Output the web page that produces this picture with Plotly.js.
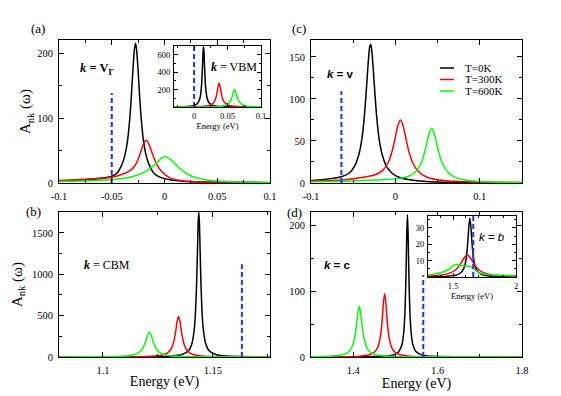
<!DOCTYPE html>
<html>
<head>
<meta charset="utf-8">
<script src="https://cdn.plot.ly/plotly-3.0.1.min.js"></script>
<style>
  html, body { margin: 0; padding: 0; background: #fff; }
  #chart { width: 561px; height: 396px; }
</style>
</head>
<body>
<div id="chart"></div>
<script>
// ---- panel (a): k = V_Gamma ----
const aBlackX = [-0.1, -0.08, -0.065, -0.05, -0.045, -0.04, -0.037, -0.035, -0.033, -0.0315, -0.03, -0.0285, -0.0275, -0.0265, -0.025, -0.0235, -0.022, -0.02, -0.018, -0.015, -0.01, -0.005, 0.005, 0.02, 0.05, 0.1];
const aBlackY = [3.0, 4.2, 6.0, 10.5, 15.5, 30, 47, 66, 98, 132, 173, 207, 216, 207, 173, 132, 98, 66, 47, 30, 15, 9.5, 5.0, 2.5, 1.2, 0.5];
const aRedX = [-0.1, -0.08, -0.065, -0.05, -0.04, -0.032, -0.028, -0.024, -0.021, -0.019, -0.0175, -0.016, -0.014, -0.011, -0.007, -0.003, 0.005, 0.015, 0.03, 0.06, 0.1];
const aRedY = [4.0, 5.5, 7.0, 9.0, 13.5, 20, 27, 41, 56, 63.5, 66, 64, 57, 43, 28, 18, 8, 4, 2, 1, 0.5];
const aGreenX = [-0.1, -0.08, -0.06, -0.05, -0.04, -0.03, -0.02, -0.014, -0.01, -0.006, -0.003, 0.0005, 0.004, 0.008, 0.012, 0.016, 0.022, 0.03, 0.04, 0.055, 0.075, 0.1];
const aGreenY = [2.2, 3.0, 4.2, 5.2, 7.0, 10, 16, 22, 27.5, 33.5, 38.5, 41, 38.5, 33, 26.5, 20.5, 13.5, 8, 4.8, 2.6, 1.4, 0.8];
const aMarkX = [-0.05, -0.05];
const aMarkY = [0, 139];

// ---- inset of (a): k = VBM ----
const iaBlackX = [-0.03, -0.01, 0.0, 0.006, 0.009, 0.0111, 0.0126, 0.0134, 0.0141, 0.0148, 0.0156, 0.0171, 0.0192, 0.0222, 0.0282, 0.0382, 0.06, 0.1];
const iaBlackY = [1.7, 5.7, 16.5, 47.8, 109, 243, 474, 631, 695, 631, 474, 243, 109, 47.8, 16.5, 5.7, 1.7, 0.45];
const iaRedX = [-0.03, 0.0, 0.015, 0.024, 0.0294, 0.0324, 0.0344, 0.0359, 0.0374, 0.0389, 0.0404, 0.0424, 0.0454, 0.0508, 0.0598, 0.075, 0.1];
const iaRedY = [0.9, 2.8, 7.7, 20.5, 50.6, 100.7, 170, 238, 275, 238, 170, 100.7, 50.6, 20.5, 7.7, 2.8, 1.0];
const iaGreenX = [-0.03, 0.0, 0.03, 0.043, 0.0506, 0.0546, 0.0576, 0.0591, 0.0606, 0.0621, 0.0636, 0.0666, 0.0706, 0.0782, 0.0912, 0.1];
const iaGreenY = [0.5, 1.1, 4.2, 12.3, 33.7, 72, 138.5, 180, 200, 180, 138.5, 72, 33.7, 12.3, 4.2, 2.6];
const iaMarkX = [0, 0];
const iaMarkY = [0, 700];

// ---- panel (c): k = v ----
const cBlackX = [-0.1, -0.085, -0.075, -0.064, -0.055, -0.048, -0.043, -0.0395, -0.0365, -0.034, -0.032, -0.0305, -0.0295, -0.0285, -0.027, -0.025, -0.0225, -0.0195, -0.016, -0.011, -0.004, 0.005, 0.0205, 0.0405, 0.0705, 0.15];
const cBlackY = [3.0, 4.3, 5.5, 7.5, 11.6, 20.7, 35, 54, 82.5, 117, 146, 161.7, 165, 161.7, 146, 117, 82.5, 54, 35, 20.7, 11.6, 6.5, 3.2, 1.6, 0.8, 0.25];
const cRedX = [-0.1, -0.08, -0.06, -0.04, -0.025, -0.015, -0.008, -0.004, -0.001, 0.003, 0.006, 0.009, 0.012, 0.016, 0.02, 0.027, 0.037, 0.05, 0.07, 0.1, 0.15];
const cRedY = [2.5, 3.0, 4.0, 6.5, 9.5, 15, 25.3, 37.5, 50.3, 68.8, 75, 68.8, 55, 37.5, 25.3, 13.9, 7.1, 3.8, 2.0, 1.0, 0.5];
const cGreenX = [-0.1, -0.06, -0.03, -0.01, 0.005, 0.015, 0.023, 0.029, 0.0335, 0.037, 0.04, 0.043, 0.046, 0.049, 0.0525, 0.057, 0.063, 0.071, 0.081, 0.1, 0.15];
const cGreenY = [1.5, 2.2, 3.2, 4.3, 5.5, 7.8, 12.5, 20.5, 32.5, 46.4, 59, 65, 59, 46.4, 32.5, 20.5, 12, 6.7, 3.8, 1.8, 0.6];
const cMarkX = [-0.064, -0.064];
const cMarkY = [0, 109];

// ---- panel (b): k = CBM ----
const bBlackX = [1.08, 1.12, 1.13, 1.136, 1.139, 1.1406, 1.1416, 1.1421, 1.1426, 1.143, 1.1433, 1.1436, 1.1439, 1.1442, 1.1446, 1.1451, 1.1456, 1.1466, 1.1482, 1.1512, 1.156, 1.176];
const bBlackY = [0.4, 3, 9, 29.8, 79, 175, 350, 538, 875, 1287, 1606, 1750, 1606, 1287, 875, 538, 350, 175, 79, 30, 11, 1.7];
const bRedX = [1.08, 1.1, 1.115, 1.122, 1.1264, 1.1294, 1.1309, 1.1319, 1.1327, 1.1332, 1.1338, 1.1344, 1.135, 1.1356, 1.1361, 1.1369, 1.1379, 1.1394, 1.1424, 1.1464, 1.1544, 1.176];
const bRedY = [0.5, 1.2, 3.7, 9, 21, 51, 93.5, 155, 245, 327, 436, 490, 436, 327, 245, 155, 93.5, 51, 21, 9.6, 3.5, 0.8];
const bGreenX = [1.08, 1.095, 1.106, 1.1111, 1.1146, 1.1166, 1.1181, 1.1189, 1.1196, 1.1203, 1.1211, 1.1219, 1.1226, 1.1233, 1.1241, 1.1256, 1.1276, 1.1311, 1.1361, 1.1461, 1.176];
const bGreenY = [0.9, 2.1, 6.3, 13.8, 31, 58, 105, 150, 205, 265, 300, 265, 205, 150, 105, 58, 31, 13.8, 6.3, 2.3, 0.5];
const bMarkX = [1.1632, 1.1632];
const bMarkY = [0, 1120];

// ---- panel (d): k = c ----
const dBlackX = [1.3, 1.45, 1.49, 1.505, 1.5155, 1.5195, 1.5225, 1.5245, 1.5255, 1.527, 1.5285, 1.53, 1.5315, 1.5325, 1.5345, 1.5375, 1.5415, 1.5485, 1.5635, 1.5885, 1.65, 1.8];
const dBlackY = [0.1, 0.6, 2.3, 6.1, 18.7, 35.6, 66.5, 108, 138, 189, 216, 189, 138, 108, 66.5, 35.6, 18.7, 8.3, 2.8, 0.96, 0.3, 0.05];
const dRedX = [1.3, 1.38, 1.4145, 1.4395, 1.4525, 1.4595, 1.4645, 1.4675, 1.4695, 1.472, 1.4745, 1.477, 1.4795, 1.4815, 1.4845, 1.4895, 1.4965, 1.5095, 1.5345, 1.6, 1.8];
const dRedY = [0.3, 0.52, 1.3, 3.7, 8.8, 17.2, 31.6, 48, 63.6, 85, 96, 85, 63.6, 48, 31.6, 17.2, 8.8, 3.7, 1.3, 0.3, 0.05];
const dGreenX = [1.3, 1.3443, 1.3743, 1.3883, 1.3963, 1.4023, 1.4058, 1.4083, 1.4113, 1.4143, 1.4173, 1.4203, 1.4228, 1.4263, 1.4323, 1.4403, 1.4543, 1.4843, 1.55, 1.8];
const dGreenY = [0.42, 1.1, 3.3, 7.4, 14, 25.8, 38.5, 51.3, 68.4, 77, 68.4, 51.3, 38.5, 25.8, 14, 7.4, 3.3, 1.1, 0.3, 0.04];
const dMarkX = [1.566, 1.566];
const dMarkY = [0, 124];

// ---- inset of (d): k = b ----
const idBlackX = [1.3, 1.45, 1.53, 1.563, 1.588, 1.603, 1.613, 1.618, 1.625, 1.633, 1.641, 1.648, 1.653, 1.663, 1.678, 1.703, 1.733, 1.8, 2.0];
const idBlackY = [0.13, 0.42, 1.3, 2.7, 5.9, 11, 18, 23, 31, 36, 31, 23, 18, 11, 5.9, 2.7, 1.4, 0.5, 0.1];
const idRedX = [1.3, 1.41, 1.482, 1.522, 1.547, 1.572, 1.592, 1.612, 1.632, 1.652, 1.677, 1.702, 1.742, 1.812, 2.0];
const idRedY = [0.56, 1.3, 2.7, 4.6, 6.75, 9.8, 12.3, 13.5, 12.3, 9.8, 6.75, 4.6, 2.7, 1.3, 0.37];
const idGreenX = [1.3, 1.35, 1.4, 1.44, 1.47, 1.49, 1.51, 1.53, 1.56, 1.6, 1.63, 1.65, 1.67, 1.69, 1.72, 1.76, 1.82, 1.9, 2.0];
const idGreenY = [1.2, 1.8, 2.6, 3.7, 5.0, 6.4, 7.3, 7.5, 7.2, 6.8, 6.6, 6.0, 4.8, 3.4, 2.3, 1.6, 1.2, 1.0, 0.9];
const idMarkX = [1.66, 1.66];
const idMarkY = [0, 37.3];

// ---- tick labels ----
const aTickVals = [-0.1, -0.05, 0, 0.05, 0.1];
const aTickText = ['-0.1', '-0.05', '0', '0.05', '0.1'];
const cTickVals = [-0.1, 0, 0.1];
const cTickText = ['-0.1', '0', '0.1'];
const bTickVals = [1.1, 1.15];
const bTickText = ['1.1', '1.15'];
const dTickVals = [1.4, 1.6, 1.8];
const dTickText = ['1.4', '1.6', '1.8'];
const iaTickVals = [0, 0.05, 0.1];
const iaTickText = ['0', '0.05', '0.1'];
const idTickVals = [1.5, 2];
const idTickText = ['1.5', '2'];

const seriesNames = ['T=0K', 'T=300K', 'T=600K'];
const seriesColors = ['#000000', '#ff0000', '#00ff00'];
const markColor = '#1f2fff';

const SERIF = '"Liberation Serif", "Times New Roman", serif';
const SANS = '"Liberation Sans", Arial, sans-serif';
const W = 561, H = 396;

// pixel -> paper helpers (page is fixed size)
const px = v => v / W;
const py = v => 1 - v / H;

function curve(x, y, i, xa, ya) {
    return {
        x: x, y: y, xaxis: xa, yaxis: ya,
        type: 'scatter', mode: 'lines', name: seriesNames[i],
        showlegend: false, hoverinfo: 'skip',
        line: { color: seriesColors[i], width: 1.5, shape: 'spline', smoothing: 0.6 }
    };
}
function mark(x, y, xa, ya) {
    return {
        x: x, y: y, xaxis: xa, yaxis: ya,
        type: 'scatter', mode: 'lines', showlegend: false, hoverinfo: 'skip',
        line: { color: markColor, width: 2, dash: '5px,3px' }
    };
}

const traces = [
    curve(aBlackX, aBlackY, 0, 'x', 'y'), curve(aRedX, aRedY, 1, 'x', 'y'), curve(aGreenX, aGreenY, 2, 'x', 'y'), mark(aMarkX, aMarkY, 'x', 'y'),
    curve(cBlackX, cBlackY, 0, 'x2', 'y2'), curve(cRedX, cRedY, 1, 'x2', 'y2'), curve(cGreenX, cGreenY, 2, 'x2', 'y2'), mark(cMarkX, cMarkY, 'x2', 'y2'),
    curve(bBlackX, bBlackY, 0, 'x3', 'y3'), curve(bRedX, bRedY, 1, 'x3', 'y3'), curve(bGreenX, bGreenY, 2, 'x3', 'y3'), mark(bMarkX, bMarkY, 'x3', 'y3'),
    curve(dBlackX, dBlackY, 0, 'x4', 'y4'), curve(dRedX, dRedY, 1, 'x4', 'y4'), curve(dGreenX, dGreenY, 2, 'x4', 'y4'), mark(dMarkX, dMarkY, 'x4', 'y4'),
    curve(iaBlackX, iaBlackY, 0, 'x5', 'y5'), curve(iaRedX, iaRedY, 1, 'x5', 'y5'), curve(iaGreenX, iaGreenY, 2, 'x5', 'y5'), mark(iaMarkX, iaMarkY, 'x5', 'y5'),
    curve(idBlackX, idBlackY, 0, 'x6', 'y6'), curve(idRedX, idRedY, 1, 'x6', 'y6'), curve(idGreenX, idGreenY, 2, 'x6', 'y6'), mark(idMarkX, idMarkY, 'x6', 'y6'),
];

// shared axis look: boxed, inside ticks on all sides
function axis(extra, small) {
    return Object.assign({
        showline: true, linecolor: '#000', linewidth: 1, mirror: 'ticks',
        ticks: 'inside', ticklen: small ? 4 : 5, tickwidth: 1, tickcolor: '#000',
        showgrid: false, zeroline: false, fixedrange: true,
        tickfont: { family: SERIF, size: small ? 8.5 : 10.5, color: '#000' },
        ticklabelstandoff: small ? 1 : 3
    }, extra);
}
const ytitleA = { text: 'A<sub>nk</sub> (ω)', font: { family: SERIF, size: 15, color: '#000' }, standoff: 2 };
const ytitleB = { text: 'A<sub>nk</sub> (ω)', font: { family: SERIF, size: 15, color: '#000' }, standoff: 5 };
const xtitle = { text: 'Energy (eV)', font: { family: SERIF, size: 14, color: '#000' }, standoff: 1 };
const xtitleSmall = { text: 'Energy (eV)', font: { family: SERIF, size: 8.5, color: '#000' }, standoff: 0 };

const layout = {
    width: W, height: H,
    margin: { l: 0, r: 0, t: 0, b: 0 },
    paper_bgcolor: '#fff', plot_bgcolor: '#fff',
    showlegend: false,
    font: { family: SERIF, color: '#000' },
    // (a)
    xaxis: axis({ domain: [px(59), px(270)], anchor: 'y', range: [-0.1, 0.1], tickvals: aTickVals, ticktext: aTickText,
        minor: { dtick: 0.025, tick0: 0, ticks: 'inside', ticklen: 3 } }),
    yaxis: axis({ domain: [py(183), py(40)], anchor: 'x', range: [0, 221], tickvals: [0, 100, 200],
        minor: { dtick: 50, ticks: 'inside', ticklen: 3 }, title: ytitleA }),
    // (c)
    xaxis2: axis({ domain: [px(311), px(522)], anchor: 'y2', range: [-0.1, 0.15], tickvals: cTickVals, ticktext: cTickText,
        minor: { dtick: 0.05, tick0: 0, ticks: 'inside', ticklen: 3 } }),
    yaxis2: axis({ domain: [py(183), py(40)], anchor: 'x2', range: [0, 170], tickvals: [0, 50, 100, 150],
        minor: { dtick: 25, ticks: 'inside', ticklen: 3 } }),
    // (b)
    xaxis3: axis({ domain: [px(59), px(270)], anchor: 'y3', range: [1.08, 1.176], tickvals: bTickVals, ticktext: bTickText,
        minor: { dtick: 0.025, tick0: 1.1, ticks: 'inside', ticklen: 3 }, title: xtitle }),
    yaxis3: axis({ domain: [py(357), py(212)], anchor: 'x3', range: [0, 1752], tickvals: [0, 500, 1000, 1500],
        minor: { dtick: 250, ticks: 'inside', ticklen: 3 }, title: ytitleB }),
    // (d)
    xaxis4: axis({ domain: [px(311), px(522)], anchor: 'y4', range: [1.3, 1.8], tickvals: dTickVals, ticktext: dTickText,
        minor: { dtick: 0.1, tick0: 1.3, ticks: 'inside', ticklen: 3 }, title: xtitle }),
    yaxis4: axis({ domain: [py(357), py(212)], anchor: 'x4', range: [0, 220], tickvals: [0, 100, 200],
        minor: { dtick: 50, ticks: 'inside', ticklen: 3 } }),
    // inset of (a)
    xaxis5: axis({ domain: [px(174), px(261)], anchor: 'y5', range: [-0.03, 0.1], tickvals: iaTickVals, ticktext: iaTickText,
        minor: { dtick: 0.025, tick0: 0, ticks: 'inside', ticklen: 2 }, title: xtitleSmall }, true),
    yaxis5: axis({ domain: [py(107), py(46)], anchor: 'x5', range: [0, 700], tickvals: [200, 400, 600],
        minor: { dtick: 100, ticks: 'inside', ticklen: 2 } }, true),
    // inset of (d)
    xaxis6: axis({ domain: [px(428), px(516)], anchor: 'y6', range: [1.3, 2.0], tickvals: idTickVals, ticktext: idTickText,
        minor: { dtick: 0.1, tick0: 1.3, ticks: 'inside', ticklen: 2 }, title: xtitleSmall }, true),
    yaxis6: axis({ domain: [py(277), py(216)], anchor: 'x6', range: [0, 37.3], tickvals: [10, 20, 30],
        minor: { dtick: 5, ticks: 'inside', ticklen: 2 } }, true),
    shapes: [],
    annotations: []
};

function note(text, x, y, font, size) {
    layout.annotations.push({
        text: text, xref: 'paper', yref: 'paper', x: px(x), y: py(y),
        xanchor: 'center', yanchor: 'middle', showarrow: false,
        font: { family: font, size: size, color: '#000' }
    });
}
// panel letters
note('(a)', 38, 29, SERIF, 13);
note('(c)', 299, 29, SERIF, 13);
note('(b)', 33, 211, SERIF, 13);
note('(d)', 294, 212, SERIF, 13);
// k-point labels
note('<b><i>k</i> = V<sub>Γ</sub></b>', 97, 69, SERIF, 12.5);
note('<b><i>k</i></b> = VBM', 234, 67, SERIF, 12);
note('<b><i>k</i> = v</b>', 340, 74, SANS, 11.5);
note('<b><i>k</i></b> = CBM', 107, 265, SERIF, 12);
note('<b><i>k</i> = c</b>', 337, 265, SANS, 11.5);
note('<i>k</i> = <i>b</i>', 492, 237, SANS, 11.5);

// legend of panel (c), drawn by hand to keep its tight row spacing
const legendRows = [68, 79.5, 91];
seriesNames.forEach((name, i) => {
    layout.shapes.push({
        type: 'line', xref: 'paper', yref: 'paper',
        x0: px(440), x1: px(454), y0: py(legendRows[i]), y1: py(legendRows[i]),
        line: { color: seriesColors[i], width: 1.5 }
    });
    layout.annotations.push({
        text: name, xref: 'paper', yref: 'paper', x: px(463), y: py(legendRows[i]),
        xanchor: 'left', yanchor: 'middle', showarrow: false,
        font: { family: SERIF, size: 11, color: '#000' }
    });
});

Plotly.newPlot('chart', traces, layout, { displayModeBar: false, staticPlot: true });
</script>
</body>
</html>
